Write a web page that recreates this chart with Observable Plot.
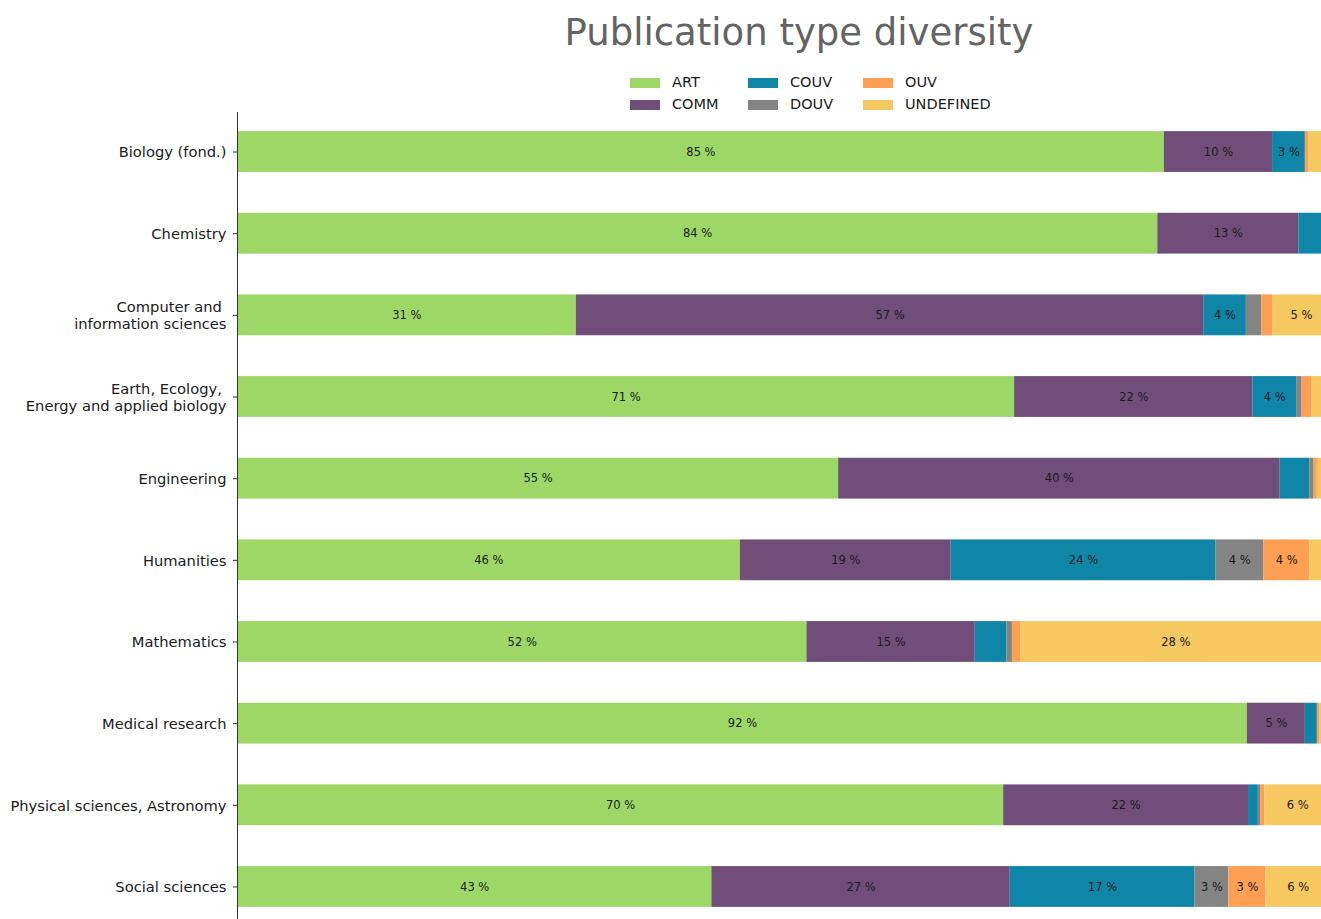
<!DOCTYPE html>
<html>
<head>
<meta charset="utf-8">
<script src="https://cdn.jsdelivr.net/npm/d3@7"></script>
<script src="https://cdn.jsdelivr.net/npm/@observablehq/plot@0.6"></script>
<style>
  html, body { margin: 0; padding: 0; overflow: hidden; background: #fff; }
  #wrap { position: relative; width: 1321px; height: 919px; overflow: hidden; font-family: "DejaVu Sans", sans-serif; }
  #chart { position: absolute; left: 0; top: 0; }
  #title { position: absolute; left: 799px; top: 14px; transform: translateX(-50%); font-size: 37px; line-height: 37px; color: #636363; white-space: nowrap; }
  .sw { position: absolute; width: 30px; height: 10px; }
  .lt { position: absolute; font-size: 14.5px; line-height: 15px; color: #1a1a1a; white-space: nowrap; }
</style>
</head>
<body>
<div id="wrap">
  <div id="chart"></div>
  <div id="title">Publication type diversity</div>
  <div id="legend"></div>
</div>
<script>
const fields = [
  "Biology (fond.)",
  "Chemistry",
  "Computer and\u00a0\ninformation sciences",
  "Earth, Ecology,\u00a0\nEnergy and applied biology",
  "Engineering",
  "Humanities",
  "Mathematics",
  "Medical research",
  "Physical sciences, Astronomy",
  "Social sciences"
];
const types = ["ART", "COMM", "COUV", "DOUV", "OUV", "UNDEFINED"];
const colors = ["#9dd866", "#714e7a", "#0f86a8", "#848484", "#fe9f53", "#f6c860"];

const ART       = [84.8, 84.2, 31.0, 71.1, 55.0, 46.0, 52.1, 92.4, 70.1, 43.4];
const COMM      = [ 9.9, 12.9, 57.4, 21.8, 40.4, 19.3, 15.4,  5.3, 22.4, 27.3];
const COUV      = [ 3.0,  2.9,  3.9,  4.0,  2.7, 24.2,  2.9,  1.1,  0.9, 16.9];
const DOUV      = [ 0.0,  0.0,  1.4,  0.5,  0.4,  4.4,  0.5,  0.0,  0.2,  3.1];
const OUV       = [ 0.3,  0.0,  1.0,  0.9,  0.3,  4.2,  0.8,  0.2,  0.4,  3.4];
const UNDEFINED = [ 2.0,  0.0,  5.3,  1.7,  1.2,  1.9, 28.3,  1.0,  6.0,  5.9];

const series = [ART, COMM, COUV, DOUV, OUV, UNDEFINED];
const rows = [];
fields.forEach((f, i) => {
  types.forEach((t, j) => rows.push({field: f, type: t, value: series[j][i]}));
});

const chart = Plot.plot({
  width: 1321,
  height: 919,
  marginTop: 112,
  marginBottom: 0,
  marginLeft: 237,
  marginRight: 0,
  style: {fontFamily: "DejaVu Sans, sans-serif", fontSize: "14.7px", color: "#1a1a1a", background: "transparent"},
  x: {domain: [0, 100], range: [237, 1330], axis: null},
  y: {domain: fields, range: [110.7, 927.3], paddingInner: 0.5, paddingOuter: 0.25, round: false, label: null},
  color: {domain: types, range: colors},
  marks: [
    Plot.barX(rows, Plot.stackX({x: "value", y: "field", fill: "type", z: "type"})),
    Plot.text(rows, Plot.stackX({
      x: "value", y: "field", z: "type",
      text: d => d.value >= 3 ? `${Math.round(d.value)} %` : "",
      fontSize: 11.5, fill: "#1a1a1a"
    })),
    Plot.ruleX([0], {stroke: "#333", strokeWidth: 1}),
    Plot.axisY({tickSize: 4, tickPadding: 7, fontSize: 14.7, lineHeight: 1.16, label: null, stroke: "#333"})
  ]
});
document.getElementById("chart").appendChild(chart);

// legend (3 columns x 2 rows, column-major)
const legend = document.getElementById("legend");
const colLeft = [630, 748, 863];
const rowTop = [78, 100];
types.forEach((t, i) => {
  const c = Math.floor(i / 2), r = i % 2;
  const sw = document.createElement("div");
  sw.className = "sw";
  sw.style.left = colLeft[c] + "px";
  sw.style.top = rowTop[r] + "px";
  sw.style.background = colors[i];
  legend.appendChild(sw);
  const lt = document.createElement("div");
  lt.className = "lt";
  lt.style.left = (colLeft[c] + 42) + "px";
  lt.style.top = (rowTop[r] - 3) + "px";
  lt.textContent = t;
  legend.appendChild(lt);
});
</script>
</body>
</html>
